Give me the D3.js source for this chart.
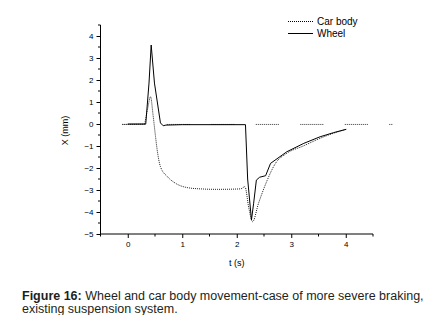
<!DOCTYPE html>
<html>
<head>
<meta charset="utf-8">
<script src="https://cdn.jsdelivr.net/npm/d3@7"></script>
<style>
  body { margin: 0; background: #fff; }
  svg text { font-family: Arial, "Liberation Sans", sans-serif; }
</style>
</head>
<body>
<div id="chart"></div>
<script>
// Car body (dotted)
const bodyT = [-0.1, 0.3, 0.36, 0.42, 0.46, 0.51, 0.54, 0.6, 0.73, 0.88, 1.09, 1.34, 1.64, 2.07, 2.15, 2.22, 2.29, 2.4, 2.56, 2.71, 2.92, 3.22, 3.53, 3.8, 4.0];
const bodyX = [-0.02, 0, 0.64, 1.24, 0.5, -0.58, -1.18, -1.94, -2.4, -2.7, -2.89, -2.95, -2.97, -2.95, -2.85, -3.8, -4.44, -3.6, -2.55, -1.79, -1.33, -1.0, -0.65, -0.4, -0.25];

// Wheel (solid)
const wheelT = [0, 0.33, 0.39, 0.43, 0.49, 0.6, 0.65, 0.7, 1.0, 2.16, 2.2, 2.27, 2.31, 2.36, 2.42, 2.53, 2.62, 2.92, 3.23, 3.53, 3.78, 4.01];
const wheelX = [0, 0, 1.86, 3.59, 1.86, 0.05, -0.08, -0.05, -0.03, -0.03, -2.5, -4.36, -3.6, -2.55, -2.42, -2.35, -1.79, -1.26, -0.88, -0.58, -0.39, -0.24];

// zero reference (dotted with gaps)
const refT = [-0.1, 4.87];
const refX = [-0.02, -0.02];

const xTicks = [0, 1, 2, 3, 4];
const yTicks = [-5, -4, -3, -2, -1, 0, 1, 2, 3, 4];
const legendLabels = ["Car body", "Wheel"];

const width = 446, height = 315;
const svg = d3.select("#chart").append("svg")
    .attr("width", width).attr("height", height);

const x = d3.scaleLinear().domain([-0.5, 4.5]).range([100.5, 373]);
const y = d3.scaleLinear().domain([-5, 4.5]).range([234, 25]);

const line = d3.line().x(d => x(d[0])).y(d => y(d[1]));

// axes
const xMinor = d3.range(-0.5, 4.51, 0.5);
const yMinor = d3.range(-5, 4.51, 0.5);

const xAxis = svg.append("g").attr("transform", `translate(0,${y(-5)})`)
    .call(d3.axisBottom(x).tickValues(xTicks).tickFormat(d3.format("d")).tickSize(4).tickPadding(3));
xAxis.append("g").selectAll("line").data(xMinor.filter(v => !xTicks.includes(v)))
    .join("line").attr("x1", d => x(d)).attr("x2", d => x(d)).attr("y1", 0).attr("y2", 2.5)
    .attr("stroke", "#000");

const yAxis = svg.append("g").attr("transform", `translate(${x(-0.5)},0)`)
    .call(d3.axisLeft(y).tickValues(yTicks).tickFormat(d3.format("d")).tickSize(4).tickPadding(3));
yAxis.append("g").selectAll("line").data(yMinor.filter(v => !yTicks.includes(v)))
    .join("line").attr("y1", d => y(d)).attr("y2", d => y(d)).attr("x1", 0).attr("x2", -2.5)
    .attr("stroke", "#000");

svg.selectAll(".domain").attr("stroke", "#000").attr("d", function() {
    return d3.select(this.parentNode).attr("transform").includes(`translate(0,`)
        ? `M${x(-0.5)},0H${x(4.5)}` : `M0,${y(-5)}V${y(4.5)}`;
});
svg.selectAll(".tick text").attr("font-size", 8).attr("fill", "#000")
    .attr("font-family", "Arial, 'Liberation Sans', sans-serif");
svg.selectAll(".tick line").attr("stroke", "#000");

// axis titles
svg.append("text").attr("x", x(2)).attr("y", 266).attr("text-anchor", "middle")
    .attr("font-size", 9).text("t (s)");
svg.append("text").attr("transform", `translate(68,${y(-0.3)}) rotate(-90)`)
    .attr("text-anchor", "middle").attr("font-size", 9).text("X (mm)");

// series
const dotsGap = d3.range(11).map(() => "1,1").join(",") + ",1,21.5";
svg.append("path").datum(d3.zip(refT, refX)).attr("d", line)
    .attr("fill", "none").attr("stroke", "#333").attr("stroke-width", 1)
    .attr("stroke-dasharray", dotsGap);

svg.append("path").datum(d3.zip(bodyT, bodyX)).attr("d", line.curve(d3.curveMonotoneX))
    .attr("fill", "none").attr("stroke", "#222").attr("stroke-width", 1)
    .attr("stroke-dasharray", "1,1");

svg.append("path").datum(d3.zip(wheelT, wheelX)).attr("d", line.curve(d3.curveLinear))
    .attr("fill", "none").attr("stroke", "#000").attr("stroke-width", 1);

// legend
const legend = svg.append("g");
legendLabels.forEach((lab, i) => {
    const ly = 21.5 + i * 12;
    legend.append("line").attr("x1", 288).attr("x2", 313).attr("y1", ly).attr("y2", ly)
        .attr("stroke", "#000").attr("stroke-width", 1)
        .attr("stroke-dasharray", i === 0 ? "1,1" : null);
    legend.append("text").attr("x", 317).attr("y", ly + 3.5).attr("font-size", 10)
        .text(lab);
});

// caption
const cap = svg.append("text").attr("font-size", 12.5).attr("fill", "#231f20");
cap.append("tspan").attr("x", 22).attr("y", 299.5).attr("font-weight", "bold").text("Figure 16:");
cap.append("tspan").text(" Wheel and car body movement-case of more severe braking,");
cap.append("tspan").attr("x", 22).attr("y", 312.5).text("existing suspension system.");
</script>
</body>
</html>
